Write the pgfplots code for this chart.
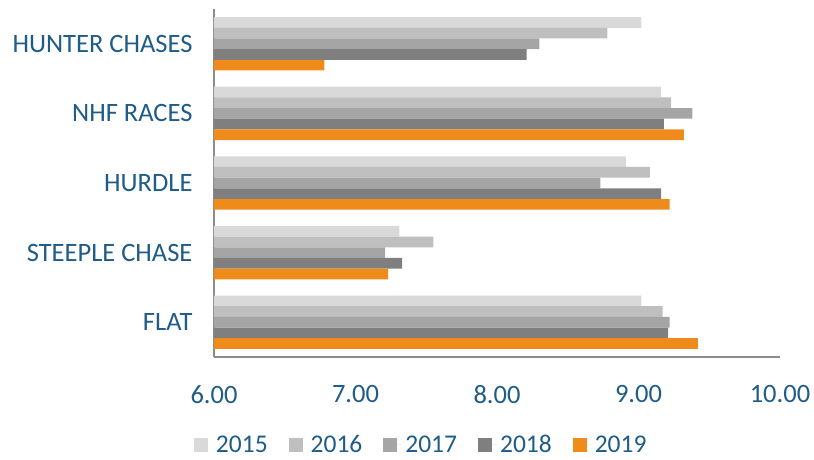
\documentclass[border=0pt]{standalone}
\usepackage{pgfplots}
\pgfplotsset{compat=1.18}
\usepackage{fontspec}
\setmainfont{Carlito}
\definecolor{txt}{HTML}{1F5C87}
\definecolor{c15}{HTML}{D9D9D9}
\definecolor{c16}{HTML}{BFBFBF}
\definecolor{c17}{HTML}{A5A5A5}
\definecolor{c18}{HTML}{7F7F7F}
\definecolor{c19}{HTML}{EE8B1A}
\definecolor{axl}{HTML}{8C8C8C}
\begin{document}
\begin{tikzpicture}
\path[use as bounding box] (0,0) rectangle (814pt,460pt);
\begin{axis}[
  at={(214pt,103pt)}, anchor=south west,
  scale only axis, width=566pt, height=348pt,
  xbar, bar width=10.67pt,
  xmin=6, xmax=10, ymin=-0.5, ymax=4.5,
  xtick={6,7,8,9,10},
  xticklabel style={/pgf/number format/.cd, fixed, fixed zerofill, precision=2, /tikz/.cd, anchor=north, yshift=-25pt},
  /pgf/number format/assume math mode=true,
  ytick={0,1,2,3,4},
  yticklabels={FLAT, STEEPLE CHASE, HURDLE, NHF RACES, HUNTER CHASES},
  yticklabel style={anchor=east, xshift=-18pt},
  major tick length=0pt,
  tick label style={font=\fontsize{26.5}{31}\selectfont, text=txt},
  axis x line=bottom, axis y line=left,
  axis line style={-, axl, line width=1.3pt},
  legend style={at={(0.367,-0.252)}, anchor=center, draw=none, fill=none,
    inner sep=0pt, nodes={inner xsep=3pt, inner ysep=0pt},
    font=\fontsize{25.5}{30}\selectfont, text=txt, legend columns=5,
    /tikz/every even column/.append style={column sep=18pt},
    legend cell align=left},
  legend image code/.code={\fill (0pt,-7pt) rectangle (14pt,7pt); \path (0pt,0pt) -- (19pt,0pt);},
  clip=false,
]
\addplot[fill=c15, draw=none, bar shift=21.34pt] coordinates {(9.02,0) (7.31,1) (8.91,2) (9.16,3) (9.02,4)};
\addplot[fill=c16, draw=none, bar shift=10.67pt] coordinates {(9.17,0) (7.55,1) (9.08,2) (9.23,3) (8.78,4)};
\addplot[fill=c17, draw=none, bar shift=0pt] coordinates {(9.22,0) (7.21,1) (8.73,2) (9.38,3) (8.30,4)};
\addplot[fill=c18, draw=none, bar shift=-10.67pt] coordinates {(9.21,0) (7.33,1) (9.16,2) (9.18,3) (8.21,4)};
\addplot[fill=c19, draw=none, bar shift=-21.34pt] coordinates {(9.42,0) (7.23,1) (9.22,2) (9.32,3) (6.78,4)};
\legend{2015,2016,2017,2018,2019}
\end{axis}
\end{tikzpicture}
\end{document}
